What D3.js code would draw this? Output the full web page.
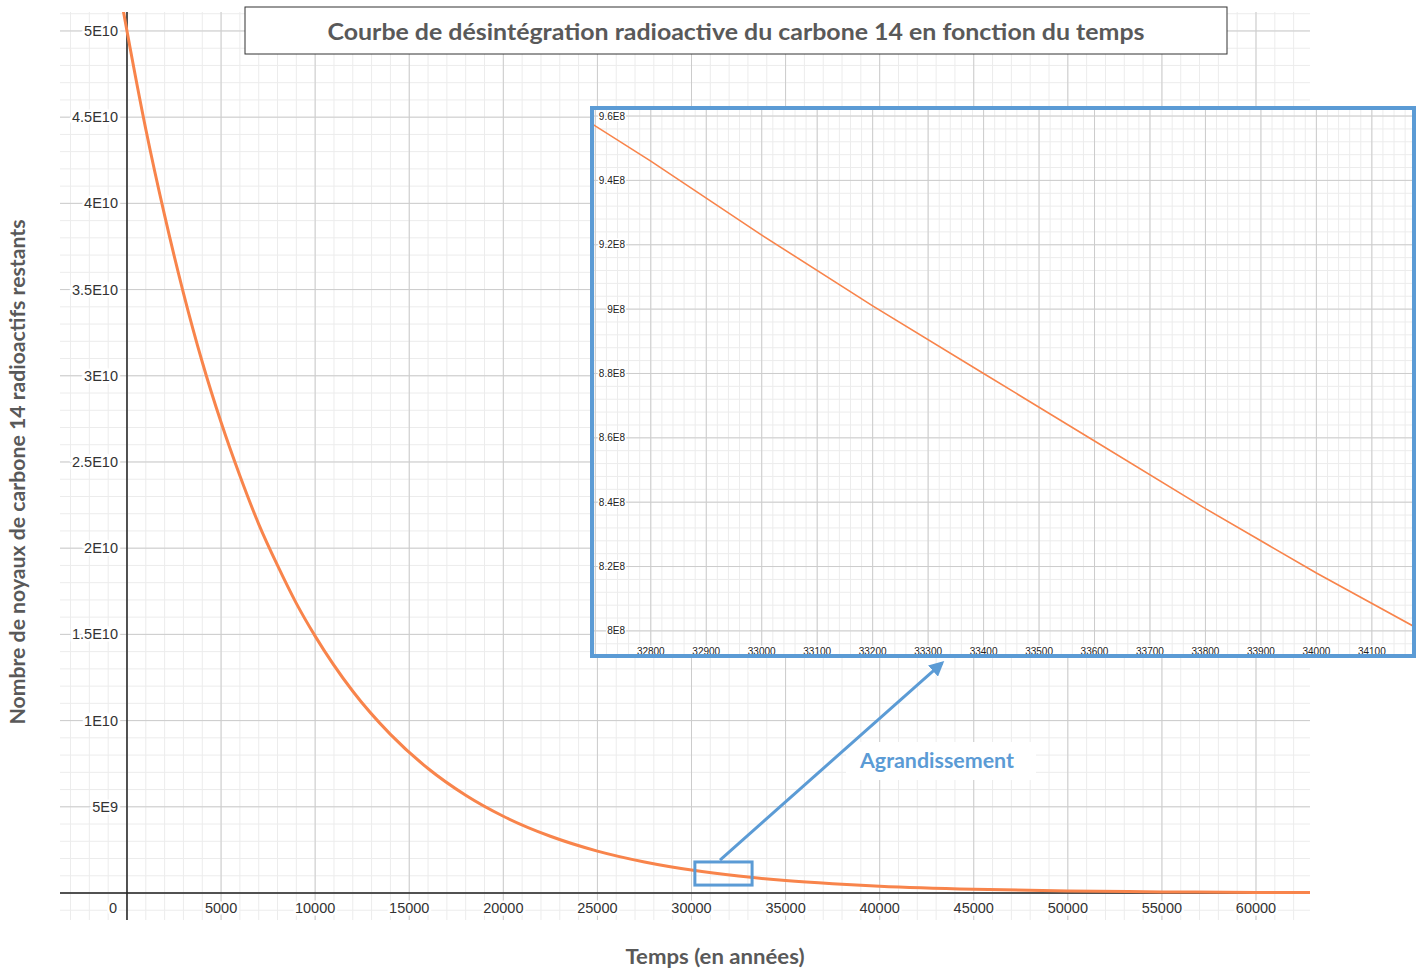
<!DOCTYPE html>
<html>
<head>
<meta charset="utf-8">
<script src="https://cdn.jsdelivr.net/npm/d3@7"></script>
<style>
  body { margin: 0; background: #fff; }
  text { font-family: "Liberation Sans", Arial, sans-serif; }
  .big { font-family: Lato, "Open Sans", sans-serif; font-weight: bold; }
</style>
</head>
<body>
<div id="chart"></div>
<script>
const years = [-200, 0, 1000, 2000, 3000, 4000, 5000, 6000, 7000, 8000, 9000, 10000,
  12000, 14000, 16000, 18000, 20000, 22500, 25000, 27500, 30000, 32500, 35000,
  37500, 40000, 45000, 50000, 55000, 60000, 62900];
const nuclei = [5.12e10, 5.0e10, 4.43e10, 3.93e10, 3.48e10, 3.08e10, 2.73e10, 2.42e10,
  2.14e10, 1.90e10, 1.68e10, 1.49e10, 1.17e10, 9.2e9, 7.22e9, 5.67e9, 4.45e9, 3.29e9,
  2.43e9, 1.80e9, 1.33e9, 9.8e8, 7.2e8, 5.35e8, 3.95e8, 2.16e8, 1.18e8, 6.5e7, 3.5e7, 2.5e7];

// valeurs lues dans l'agrandissement
const zoomYears = [32690, 32800, 33000, 33200, 33400, 33600, 33800, 34000, 34180];
const zoomNuclei = [9.58e8, 9.46e8, 9.23e8, 9.01e8, 8.80e8, 8.59e8, 8.38e8, 8.18e8, 8.01e8];

const xTicks = [0, 5000, 10000, 15000, 20000, 25000, 30000, 35000, 40000, 45000, 50000, 55000, 60000];
const yTicks = [5e9, 1e10, 1.5e10, 2e10, 2.5e10, 3e10, 3.5e10, 4e10, 4.5e10, 5e10];
const yTickLabels = ["5E9", "1E10", "1.5E10", "2E10", "2.5E10", "3E10", "3.5E10", "4E10", "4.5E10", "5E10"];

const zoomXTicks = [32800, 32900, 33000, 33100, 33200, 33300, 33400, 33500, 33600, 33700, 33800, 33900, 34000, 34100];
const zoomYTicks = [8e8, 8.2e8, 8.4e8, 8.6e8, 8.8e8, 9e8, 9.2e8, 9.4e8, 9.6e8];
const zoomYTickLabels = ["8E8", "8.2E8", "8.4E8", "8.6E8", "8.8E8", "9E8", "9.2E8", "9.4E8", "9.6E8"];

// zone agrandie (années, noyaux) et flèche
const boxYears = [30180, 33220];
const boxNuclei = [4.6e8, 1.8e9];
const arrowStart = [31514, 1.91e9];
const arrowEnd = [33325, 7.9e8];
const noteAt = [38954, 7.25e9];

const orange = "#f8844b";
const blue = "#5b9bd5";

class DecayChart {
    constructor(option) {
        for (let [key, value] of Object.entries(option)) {
            this[key] = value;
        }
        this.creatSvg();
        this.creatMain();
        this.creatZoom();
        this.creatNotes();
    }
    creatSvg() {
        this.svg = d3.select(this.ele).append("svg")
            .attr("width", this.width)
            .attr("height", this.height);
        const defs = this.svg.append("defs");
        defs.append("clipPath").attr("id", "clipMain")
            .append("rect").attr("x", 60).attr("y", 12).attr("width", 1250).attr("height", 908);
        defs.append("clipPath").attr("id", "clipZoom")
            .append("rect").attr("x", 592).attr("y", 108).attr("width", 822).attr("height", 548);
        defs.append("marker").attr("id", "head")
            .attr("viewBox", "0 0 10 10").attr("refX", 8).attr("refY", 5)
            .attr("markerWidth", 5).attr("markerHeight", 5)
            .attr("orient", "auto")
            .append("path").attr("d", "M0,0L10,5L0,10Z").attr("fill", blue);
    }
    grid(g, x, y, xStep, yStep, major) {
        const [x0, x1] = x.domain(), [y0, y1] = y.domain();
        const vx = d3.range(Math.ceil(x0 / xStep) * xStep, x1, xStep);
        const hy = d3.range(Math.ceil(y0 / yStep) * yStep, y1, yStep);
        g.selectAll(".vx").data(vx).enter().append("line")
            .attr("x1", d => x(d)).attr("x2", d => x(d))
            .attr("y1", y.range()[0]).attr("y2", y.range()[1])
            .attr("stroke", major ? "#cccccc" : "#ececec").attr("stroke-width", 1);
        g.selectAll(".hy").data(hy).enter().append("line")
            .attr("y1", d => y(d)).attr("y2", d => y(d))
            .attr("x1", x.range()[0]).attr("x2", x.range()[1])
            .attr("stroke", major ? "#cccccc" : "#ececec").attr("stroke-width", 1);
    }
    creatMain() {
        const x = this.x = d3.scaleLinear().domain([-3560, 62870]).range([60, 1310]);
        const y = this.y = d3.scaleLinear().domain([-1.566e9, 5.11e10]).range([920, 12]);
        const g = this.svg.append("g");
        this.grid(g.append("g"), x, y, 1000, 1e9, false);
        this.grid(g.append("g"), x, y, 5000, 5e9, true);

        // axes
        g.append("line").attr("x1", 60).attr("x2", 1310).attr("y1", y(0)).attr("y2", y(0))
            .attr("stroke", "#222").attr("stroke-width", 1.5);
        g.append("line").attr("x1", x(0)).attr("x2", x(0)).attr("y1", 12).attr("y2", 920)
            .attr("stroke", "#222").attr("stroke-width", 1.5);

        const halo = s => s.attr("stroke", "#fff").attr("stroke-width", 5)
            .attr("paint-order", "stroke").attr("fill", "#333").style("font-size", "14.5px");
        g.selectAll(".xl").data(xTicks).enter().append("text")
            .attr("x", d => d === 0 ? x(d) - 10 : x(d))
            .attr("y", y(0) + 15)
            .attr("dy", "0.35em")
            .attr("text-anchor", d => d === 0 ? "end" : "middle")
            .text(d => d).call(halo);
        g.selectAll(".yl").data(yTicks).enter().append("text")
            .attr("x", x(0) - 9).attr("y", d => y(d)).attr("dy", "0.35em")
            .attr("text-anchor", "end")
            .text((d, i) => yTickLabels[i]).call(halo);

        const line = d3.line().curve(d3.curveMonotoneX)
            .x((d, i) => x(years[i])).y(d => y(d));
        g.append("path").attr("clip-path", "url(#clipMain)")
            .attr("d", line(nuclei))
            .attr("fill", "none").attr("stroke", orange).attr("stroke-width", 3);

        // petit cadre de la zone agrandie
        g.append("rect")
            .attr("x", x(boxYears[0])).attr("y", y(boxNuclei[1]))
            .attr("width", x(boxYears[1]) - x(boxYears[0]))
            .attr("height", y(boxNuclei[0]) - y(boxNuclei[1]))
            .attr("fill", "none").attr("stroke", blue).attr("stroke-width", 3);

        // titres des axes
        this.svg.append("text").attr("class", "big")
            .attr("transform", `translate(25,472) rotate(-90)`)
            .attr("text-anchor", "middle").attr("fill", "#595959").style("font-size", "20px")
            .attr("textLength", 505).attr("lengthAdjust", "spacingAndGlyphs")
            .text("Nombre de noyaux de carbone 14 radioactifs restants");
        this.svg.append("text").attr("class", "big")
            .attr("x", 715).attr("y", 964)
            .attr("text-anchor", "middle").attr("fill", "#595959").style("font-size", "20.5px")
            .attr("textLength", 179).attr("lengthAdjust", "spacingAndGlyphs")
            .text("Temps (en années)");

        // titre
        this.svg.append("rect").attr("x", 245).attr("y", 7).attr("width", 982).attr("height", 47)
            .attr("fill", "#fff").attr("stroke", "#333").attr("stroke-width", 1);
        this.svg.append("text").attr("class", "big")
            .attr("x", 736).attr("y", 40).attr("text-anchor", "middle")
            .attr("fill", "#595959").style("font-size", "22px")
            .attr("textLength", 817).attr("lengthAdjust", "spacingAndGlyphs")
            .text("Courbe de désintégration radioactive du carbone 14 en fonction du temps");
    }
    creatZoom() {
        const zx = this.zx = d3.scaleLinear().domain([32694, 34176]).range([592, 1414]);
        const zy = this.zy = d3.scaleLinear().domain([7.922e8, 9.625e8]).range([656, 108]);
        const g = this.svg.append("g");
        g.append("rect").attr("x", 592).attr("y", 108).attr("width", 822).attr("height", 548).attr("fill", "#fff");
        const gg = g.append("g").attr("clip-path", "url(#clipZoom)");
        this.grid(gg.append("g"), zx, zy, 20, 4e6, false);
        this.grid(gg.append("g"), zx, zy, 100, 2e7, true);

        const halo = s => s.attr("stroke", "#fff").attr("stroke-width", 3)
            .attr("paint-order", "stroke").attr("fill", "#222").style("font-size", "10px");
        gg.selectAll(".zxl").data(zoomXTicks).enter().append("text")
            .attr("x", d => zx(d)).attr("y", 651).attr("dy", "0.35em")
            .attr("text-anchor", "middle").text(d => d).call(halo);
        gg.selectAll(".zyl").data(zoomYTicks).enter().append("text")
            .attr("x", 625).attr("y", d => zy(d)).attr("dy", "0.35em")
            .attr("text-anchor", "end").text((d, i) => zoomYTickLabels[i]).call(halo);

        const line = d3.line().x((d, i) => zx(zoomYears[i])).y(d => zy(d));
        gg.append("path").attr("d", line(zoomNuclei))
            .attr("fill", "none").attr("stroke", orange).attr("stroke-width", 1.6);

        g.append("rect").attr("x", 592).attr("y", 108).attr("width", 822).attr("height", 548)
            .attr("fill", "none").attr("stroke", blue).attr("stroke-width", 4);
    }
    creatNotes() {
        const x = this.x, y = this.y, zx = this.zx, zy = this.zy;
        this.svg.append("rect")
            .attr("x", x(noteAt[0]) - 14).attr("y", y(noteAt[1]) - 26)
            .attr("width", 190).attr("height", 38).attr("fill", "#fff");
        this.svg.append("line")
            .attr("x1", x(arrowStart[0])).attr("y1", y(arrowStart[1]))
            .attr("x2", zx(arrowEnd[0])).attr("y2", zy(arrowEnd[1]))
            .attr("stroke", blue).attr("stroke-width", 3)
            .attr("marker-end", "url(#head)");
        this.svg.append("text").attr("class", "big")
            .attr("x", x(noteAt[0])).attr("y", y(noteAt[1]))
            .attr("fill", blue).style("font-size", "20px")
            .attr("textLength", 154).attr("lengthAdjust", "spacingAndGlyphs")
            .text("Agrandissement");
    }
}

new DecayChart({
    ele: document.getElementById("chart"),
    width: 1424,
    height: 969
});
</script>
</body>
</html>
